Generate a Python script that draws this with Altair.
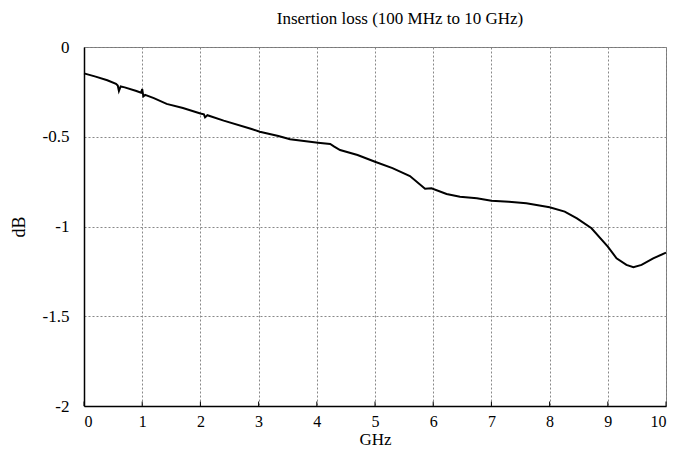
import altair as alt
import pandas as pd

ghz = [0.0, 0.2, 0.4, 0.55, 0.58, 0.6, 0.63, 0.7, 0.9, 0.98, 1.0, 1.02, 1.05, 1.2, 1.42, 1.7, 2.0, 2.06, 2.08, 2.12, 2.4, 2.88, 3.02, 3.34, 3.54, 4.02, 4.23, 4.3, 4.4, 4.7, 5.0, 5.3, 5.6, 5.86, 5.97, 6.23, 6.46, 6.75, 7.0, 7.3, 7.6, 8.0, 8.26, 8.47, 8.72, 9.0, 9.15, 9.32, 9.44, 9.58, 9.78, 10.0]
db = [-0.147, -0.165, -0.185, -0.205, -0.215, -0.245, -0.22, -0.225, -0.245, -0.255, -0.235, -0.275, -0.267, -0.285, -0.317, -0.34, -0.37, -0.375, -0.392, -0.38, -0.41, -0.457, -0.472, -0.496, -0.514, -0.533, -0.54, -0.555, -0.574, -0.602, -0.639, -0.675, -0.719, -0.79, -0.787, -0.819, -0.834, -0.843, -0.856, -0.862, -0.871, -0.893, -0.917, -0.955, -1.01, -1.112, -1.177, -1.214, -1.227, -1.214, -1.177, -1.146]

x_ticks = [0, 1, 2, 3, 4, 5, 6, 7, 8, 9, 10]
y_ticks = [0, -0.5, -1, -1.5, -2]

df = pd.DataFrame({"GHz": ghz, "dB": db})
tick_df = pd.DataFrame({"t": x_ticks})

FONT = "Liberation Serif"

xs = alt.Scale(domain=[0, 10], nice=False, zero=False)
ys = alt.Scale(domain=[-2, 0], nice=False)

line = alt.Chart(df).mark_line(color="black", strokeWidth=2).encode(
    x=alt.X("GHz:Q", scale=xs, title="GHz",
            axis=alt.Axis(values=x_ticks, labelExpr="toString(datum.value)", grid=True,
                          gridDash=[2, 2], gridColor="#888", gridWidth=1,
                          domainColor="black", domainWidth=1.5, ticks=False,
                          labelPadding=7, labelFontSize=16, titleFontSize=17,
                          labelFont=FONT, titleFont=FONT, labelColor="black", titleColor="black",
                          titleFontWeight="normal", titleY=38, titleBaseline="alphabetic")),
    y=alt.Y("dB:Q", scale=ys, title="dB",
            axis=alt.Axis(values=y_ticks, labelExpr="toString(datum.value)", grid=True,
                          gridDash=[2, 2], gridColor="#888", gridWidth=1,
                          domainColor="black", domainWidth=1.5, ticks=False,
                          labelPadding=15, labelFontSize=17, titleFontSize=18,
                          labelFont=FONT, titleFont=FONT, labelColor="black", titleColor="black",
                          titleFontWeight="normal", titlePadding=14)),
)

ticks = alt.Chart(tick_df).mark_rule(color="black", strokeWidth=1).encode(
    x=alt.X("t:Q", scale=xs),
    y=alt.Y("y0:Q", scale=ys),
    y2="y1:Q",
).transform_calculate(y0="-2", y1="-1.975")

chart = alt.layer(ticks, line).properties(
    width=582, height=359,
    padding={"left": 76, "top": 39, "right": 2, "bottom": 43},
    autosize="none",
    title=alt.TitleParams("Insertion loss (100 MHz to 10 GHz)", anchor="middle", dx=25,
                          font=FONT, fontSize=17, fontWeight="normal", color="black", offset=10),
).configure_view(stroke="#777", strokeWidth=1)

chart.save("out.html", embed_options={"renderer": "svg", "actions": False})
